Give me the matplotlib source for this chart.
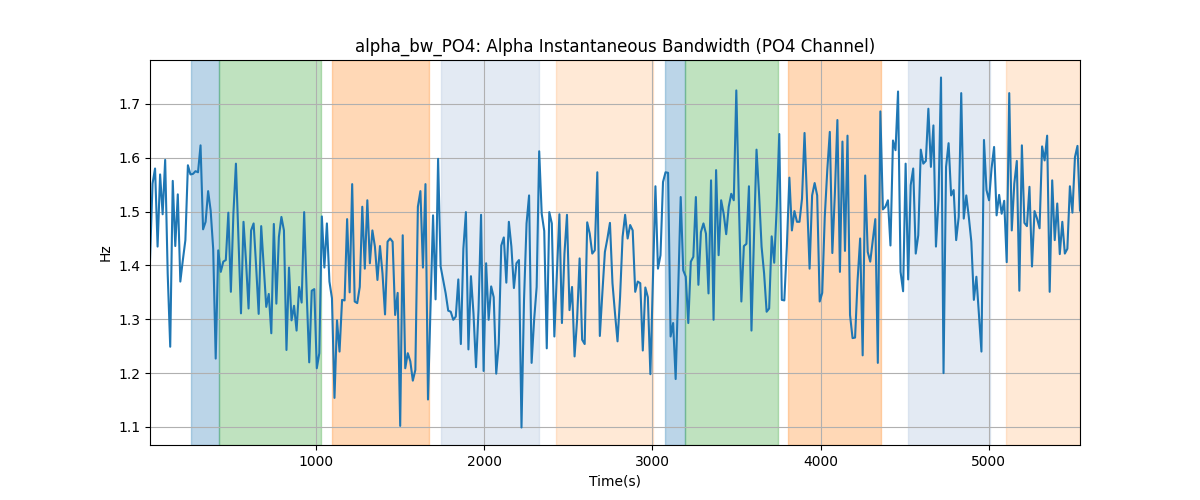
import numpy as np
import matplotlib
matplotlib.use("Agg")
import matplotlib.pyplot as plt

# Alpha bandwidth values (Hz), sampled every ~15 s
values = [
    1.41, 1.552, 1.580, 1.435, 1.569, 1.495, 1.596, 1.385, 1.249, 1.557, 1.436, 1.532, 1.370, 1.410, 1.447,
    1.586, 1.569, 1.570, 1.575, 1.573, 1.623, 1.467, 1.481, 1.538, 1.502, 1.431, 1.227, 1.428, 1.388, 1.407,
    1.410, 1.498, 1.351, 1.496, 1.589, 1.447, 1.311, 1.481, 1.407, 1.320, 1.465, 1.478, 1.398, 1.310, 1.473,
    1.398, 1.323, 1.347, 1.274, 1.477, 1.329, 1.453, 1.490, 1.465,
    1.243, 1.396, 1.298, 1.325, 1.279, 1.360, 1.331, 1.499, 1.349, 1.220, 1.353, 1.356, 1.209, 1.237, 1.491,
    1.396, 1.478, 1.370, 1.339, 1.154, 1.298, 1.240, 1.336, 1.335, 1.486, 1.350, 1.551, 1.333, 1.330, 1.360,
    1.509, 1.394, 1.521, 1.404, 1.465, 1.435, 1.373, 1.436, 1.385, 1.309, 1.444, 1.450, 1.444, 1.308, 1.349,
    1.102, 1.456, 1.209, 1.237, 1.222, 1.186, 1.206, 1.509,
    1.538, 1.396, 1.551, 1.151, 1.320, 1.493, 1.337, 1.598, 1.398, 1.373, 1.348, 1.316, 1.314, 1.299, 1.305,
    1.374, 1.254, 1.431, 1.499, 1.244, 1.380, 1.311, 1.211, 1.318, 1.494, 1.204, 1.404, 1.299, 1.361, 1.341,
    1.199, 1.255, 1.437, 1.452, 1.368, 1.481, 1.435, 1.358, 1.404, 1.410, 1.099, 1.336, 1.478, 1.530, 1.219,
    1.299, 1.360, 1.612, 1.496, 1.464, 1.246, 1.499,
    1.478, 1.268, 1.385, 1.495, 1.293, 1.422, 1.494, 1.317, 1.360, 1.231, 1.299, 1.413, 1.262, 1.254, 1.480,
    1.459, 1.422, 1.428, 1.573, 1.269, 1.349, 1.425, 1.450, 1.479, 1.367, 1.311, 1.259, 1.341, 1.453, 1.494,
    1.450, 1.475, 1.465, 1.351, 1.370, 1.367, 1.242, 1.359, 1.341, 1.198, 1.373, 1.547, 1.394, 1.419, 1.555,
    1.573, 1.572, 1.268, 1.293, 1.189, 1.354, 1.527, 1.391,
    1.379, 1.293, 1.407, 1.416, 1.527, 1.364, 1.462, 1.478, 1.459, 1.348, 1.558, 1.299, 1.577, 1.419, 1.521,
    1.496, 1.458, 1.509, 1.533, 1.521, 1.725, 1.521, 1.333, 1.436, 1.440, 1.547, 1.279, 1.453, 1.615, 1.533,
    1.435, 1.385, 1.314, 1.320, 1.454, 1.405, 1.509, 1.644, 1.336, 1.335, 1.435, 1.563, 1.465, 1.501, 1.481,
    1.481, 1.524, 1.646, 1.521, 1.394, 1.530, 1.553,
    1.530, 1.333, 1.349, 1.490, 1.577, 1.648, 1.423, 1.533, 1.670, 1.388, 1.630, 1.427, 1.641, 1.308, 1.265,
    1.266, 1.373, 1.450, 1.233, 1.567, 1.425, 1.407, 1.447, 1.486, 1.219, 1.686, 1.504, 1.509, 1.521, 1.437,
    1.632, 1.614, 1.723, 1.388, 1.352, 1.589, 1.374, 1.549, 1.580, 1.422, 1.456, 1.615, 1.589, 1.594, 1.691,
    1.583, 1.660, 1.435, 1.521, 1.749, 1.200, 1.583, 1.627,
    1.530, 1.540, 1.447, 1.490, 1.720, 1.487, 1.530, 1.490, 1.444, 1.336, 1.379, 1.310, 1.240, 1.633, 1.540,
    1.521, 1.580, 1.620, 1.493, 1.531, 1.496, 1.520, 1.406, 1.720, 1.465, 1.552, 1.594, 1.353, 1.623, 1.479,
    1.473, 1.546, 1.398, 1.501, 1.487, 1.469, 1.621, 1.595, 1.641, 1.351, 1.558, 1.447, 1.515, 1.421, 1.481,
    1.422, 1.431, 1.547, 1.498, 1.601, 1.622, 1.502,
]

t_start = 12.0
t_step = 15.03
times = t_start + t_step * np.arange(len(values))

# Shaded segments: (start, end, color, alpha)
span_starts = [256, 424, 1095, 1744, 2427, 3077, 3196, 3804, 4518, 5101]
span_ends = [424, 1028, 1673, 2325, 3002, 3196, 3744, 4361, 5010, 5545]
span_colors = ["tab:blue", "tab:green", "tab:orange", "lightsteelblue", "tab:orange",
               "tab:blue", "tab:green", "tab:orange", "lightsteelblue", "tab:orange"]
span_alphas = [0.3, 0.3, 0.3, 0.35, 0.17, 0.3, 0.3, 0.3, 0.35, 0.17]

fig, ax = plt.subplots(figsize=(12, 5), dpi=100)
for s, e, c, a in zip(span_starts, span_ends, span_colors, span_alphas):
    ax.axvspan(s, e, color=c, alpha=a)
ax.plot(times, values, color="tab:blue", linewidth=1.5)
ax.set_xlim(times[0], times[-1])
ax.set_title("alpha_bw_PO4: Alpha Instantaneous Bandwidth (PO4 Channel)")
ax.set_xlabel("Time(s)")
ax.set_ylabel("Hz")
ax.grid(True)
fig.savefig("out.png")
